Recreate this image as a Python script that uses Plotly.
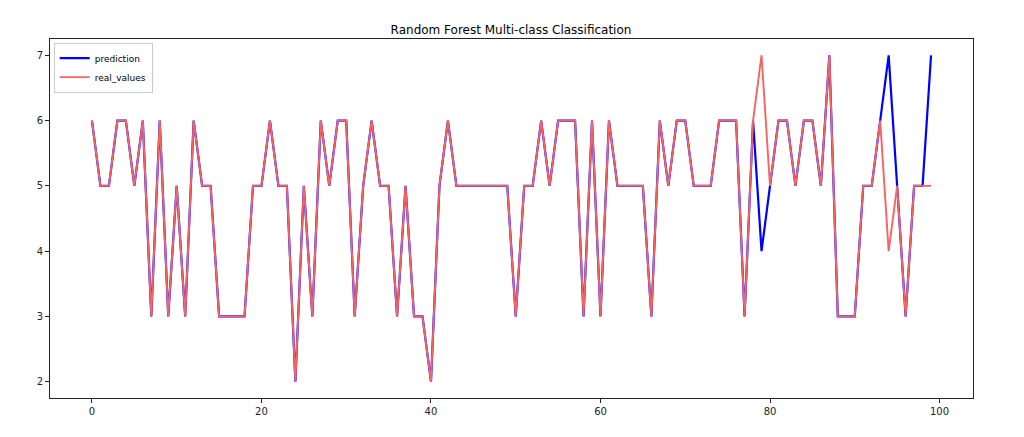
import plotly.graph_objects as go

x_index = list(range(100))

prediction = [6, 5, 5, 6, 6, 5, 6, 3, 6, 3,
              5, 3, 6, 5, 5, 3, 3, 3, 3, 5,
              5, 6, 5, 5, 2, 5, 3, 6, 5, 6,
              6, 3, 5, 6, 5, 5, 3, 5, 3, 3,
              2, 5, 6, 5, 5, 5, 5, 5, 5, 5,
              3, 5, 5, 6, 5, 6, 6, 6, 3, 6,
              3, 6, 5, 5, 5, 5, 3, 6, 5, 6,
              6, 5, 5, 5, 6, 6, 6, 3, 6, 4,
              5, 6, 6, 5, 6, 6, 5, 7, 3, 3,
              3, 5, 5, 6, 7, 5, 3, 5, 5, 7]

real_values = [6, 5, 5, 6, 6, 5, 6, 3, 6, 3,
               5, 3, 6, 5, 5, 3, 3, 3, 3, 5,
               5, 6, 5, 5, 2, 5, 3, 6, 5, 6,
               6, 3, 5, 6, 5, 5, 3, 5, 3, 3,
               2, 5, 6, 5, 5, 5, 5, 5, 5, 5,
               3, 5, 5, 6, 5, 6, 6, 6, 3, 6,
               3, 6, 5, 5, 5, 5, 3, 6, 5, 6,
               6, 5, 5, 5, 6, 6, 6, 3, 6, 7,
               5, 6, 6, 5, 6, 6, 5, 7, 3, 3,
               3, 5, 5, 6, 4, 5, 3, 5, 5, 5]

font = "DejaVu Sans"

fig = go.Figure()
fig.add_trace(go.Scatter(x=x_index, y=prediction, mode="lines", name="prediction",
                         line=dict(color="blue", width=2.2)))
# salmon-red drawn over the blue, so matching points look red with a thin blue fringe
fig.add_trace(go.Scatter(x=x_index, y=real_values, mode="lines", name="real_values",
                         line=dict(color="rgb(245,100,100)", width=1.9)))

axis_style = dict(showgrid=False, zeroline=False, showline=True, linecolor="#222",
                  linewidth=1, mirror=True, ticks="outside", ticklen=4,
                  tickcolor="#222", tickfont=dict(family=font, size=10, color="#222"))

# page body has an 8px margin, so size the figure to fit inside it
fig.update_layout(
    width=1016, height=429,
    margin=dict(l=42, r=51, t=31, b=39),
    paper_bgcolor="white", plot_bgcolor="white",
    title=dict(text="Random Forest Multi-class Classification", x=(511 - 8) / 1016,
               xanchor="center", yref="container", y=1 - 22 / 429, yanchor="middle",
               font=dict(family=font, size=12, color="black")),
    xaxis=dict(range=[-4.95, 103.95], tickvals=[0, 20, 40, 60, 80, 100], **axis_style),
    yaxis=dict(range=[1.75, 7.25], tickvals=[2, 3, 4, 5, 6, 7], **axis_style),
    legend=dict(x=0.004, y=0.99, xanchor="left", yanchor="top",
                bgcolor="rgba(255,255,255,0.8)", bordercolor="#ccc", borderwidth=1,
                font=dict(family=font, size=9, color="black"),
                tracegroupgap=0, itemwidth=30),
    showlegend=True,
)

fig.write_html("out.html")
